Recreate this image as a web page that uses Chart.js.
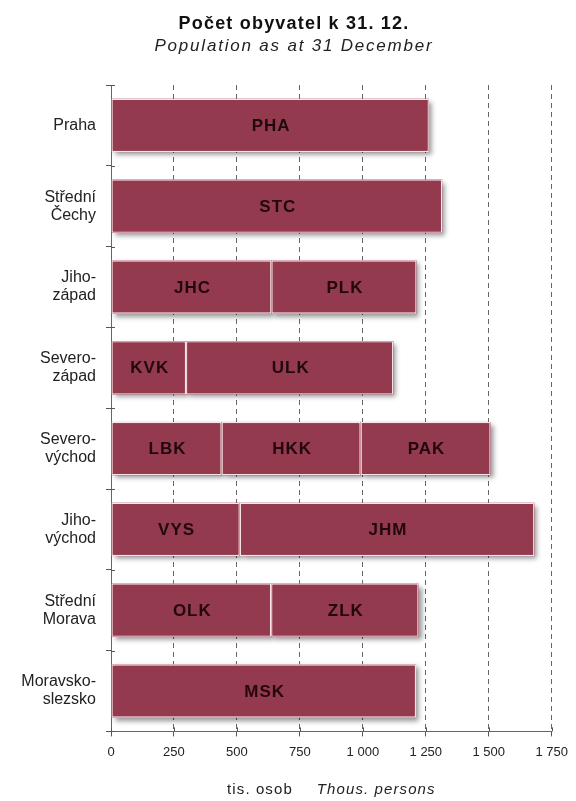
<!DOCTYPE html>
<html><head><meta charset="utf-8">
<script src="https://cdn.jsdelivr.net/npm/chart.js@4/dist/chart.umd.min.js"></script>
<style>html,body{margin:0;padding:0;background:#fff}#wrap{width:576px;height:801px;position:relative}</style>
</head>
<body><div id="wrap"><canvas id="c" width="576" height="801"></canvas></div>
<script>
const regions = [["Praha"],["Střední","Čechy"],["Jiho-","západ"],["Severo-","západ"],["Severo-","východ"],["Jiho-","východ"],["Střední","Morava"],["Moravsko-","slezsko"]];
const part1Codes = ["PHA","STC","JHC","KVK","LBK","VYS","OLK","MSK"];
const part1Values = [1262,1315,637,298,439,511,636,1211];
const part2Codes = [null,null,"PLK","ULK","HKK","JHM","ZLK",null];
const part2Values = [null,null,576,823,552,1170,585,null];
const part3Codes = [null,null,null,null,"PAK",null,null,null];
const part3Values = [null,null,null,null,516,null,null,null];
const xTicks = [0,250,500,750,1000,1250,1500,1750];
const titleText = "Počet obyvatel k 31. 12.";
const subtitleText = "Population as at 31 December";
const axisTitleCz = "tis. osob";
const axisTitleEn = "Thous. persons";

const FONT = '"Liberation Sans", Arial, sans-serif';
const barColor = '#933a4f';
const codesByDataset = [part1Codes, part2Codes, part3Codes];

function fmt(v){
  if (v >= 1000) return Math.floor(v/1000) + ' ' + String(v % 1000).padStart(3,'0');
  return String(v);
}

const mkDs = (vals) => ({
  data: vals,
  backgroundColor: barColor,
  borderColor: 'rgba(255,236,240,0.95)',
  borderWidth: 1.3,
  borderSkipped: false,
  barPercentage: 0.66,
  categoryPercentage: 1.0
});

function spaced(ctx, v){ try { ctx.letterSpacing = v; } catch(e) {} }

const decor = {
  id: 'decor',
  beforeDatasetsDraw(chart){
    const ctx = chart.ctx;
    ctx.save();
    ctx.shadowColor = 'rgba(0,0,0,0.42)';
    ctx.shadowBlur = 5;
    ctx.shadowOffsetX = 3;
    ctx.shadowOffsetY = 3;
    ctx.fillStyle = barColor;
    chart.data.datasets.forEach((ds, di) => {
      const meta = chart.getDatasetMeta(di);
      meta.data.forEach((el, i) => {
        if (ds.data[i] == null) return;
        const x0 = Math.min(el.x, el.base), x1 = Math.max(el.x, el.base);
        const h = el.height;
        ctx.fillRect(x0, el.y - h / 2, x1 - x0, h);
      });
    });
    ctx.restore();
  },
  afterDatasetsDraw(chart){
    const ctx = chart.ctx;
    ctx.save();
    ctx.font = 'bold 17px ' + FONT;
    ctx.fillStyle = '#22070d';
    ctx.textAlign = 'center';
    ctx.textBaseline = 'middle';
    spaced(ctx, '1px');
    chart.data.datasets.forEach((ds, di) => {
      const meta = chart.getDatasetMeta(di);
      meta.data.forEach((el, i) => {
        const code = codesByDataset[di][i];
        if (!code || ds.data[i] == null) return;
        const cx = (el.x + el.base) / 2;
        ctx.fillText(code, cx + 1, el.y + 1);
      });
    });
    ctx.restore();
  },
  afterDraw(chart){
    const ctx = chart.ctx;
    const ca = chart.chartArea;
    const xs = chart.scales.x, ys = chart.scales.y;
    ctx.save();
    ctx.strokeStyle = '#555';
    ctx.lineWidth = 1;
    ctx.beginPath();
    xTicks.forEach(v => {
      const px = Math.round(xs.getPixelForValue(v)) + 0.5;
      ctx.moveTo(px, ca.bottom); ctx.lineTo(px, ca.bottom - 4);
    });
    for (let i = 0; i <= regions.length; i++) {
      const py = Math.round(ys.getPixelForValue(i - 0.5)) + 0.5;
      ctx.moveTo(ca.left, py); ctx.lineTo(ca.left + 4, py);
    }
    ctx.stroke();
    ctx.textAlign = 'center';
    ctx.textBaseline = 'middle';
    ctx.fillStyle = '#111';
    spaced(ctx, '1.2px');
    ctx.font = 'bold 18px ' + FONT;
    ctx.fillText(titleText, 294, 24);
    ctx.fillStyle = '#222';
    spaced(ctx, '1.8px');
    ctx.font = 'italic 17px ' + FONT;
    ctx.fillText(subtitleText, 294, 46);
    const cx = (ca.left + ca.right) / 2;
    spaced(ctx, '1.1px');
    ctx.font = '15px ' + FONT;
    const w1 = ctx.measureText(axisTitleCz).width;
    ctx.font = 'italic 15px ' + FONT;
    const w2 = ctx.measureText(axisTitleEn).width;
    const gap = 24;
    const start = cx - (w1 + gap + w2) / 2;
    ctx.textAlign = 'left';
    ctx.fillStyle = '#222';
    ctx.font = '15px ' + FONT;
    ctx.fillText(axisTitleCz, start, 790);
    ctx.font = 'italic 15px ' + FONT;
    ctx.fillText(axisTitleEn, start + w1 + gap, 790);
    ctx.restore();
  }
};

new Chart(document.getElementById('c'), {
  type: 'bar',
  data: {
    labels: regions,
    datasets: [mkDs(part1Values), mkDs(part2Values), mkDs(part3Values)]
  },
  options: {
    indexAxis: 'y',
    responsive: false,
    maintainAspectRatio: false,
    animation: false,
    devicePixelRatio: 1,
    layout: { padding: { top: 85, left: 6, right: 23, bottom: 33 } },
    plugins: { legend: { display: false }, tooltip: { enabled: false }, title: { display: false } },
    scales: {
      x: {
        stacked: true,
        min: 0, max: 1750,
        afterBuildTicks(s){ s.ticks = xTicks.map(v => ({ value: v })); },
        ticks: {
          callback: (v) => fmt(v),
          font: { family: FONT, size: 13 },
          color: '#222',
          padding: 8,
          maxRotation: 0
        },
        grid: {
          color: '#666', lineWidth: 1, drawTicks: true, tickLength: 5,
          tickColor: '#555', tickBorderDash: []
        },
        border: { display: true, color: '#666', width: 1, dash: [5, 4] }
      },
      y: {
        stacked: true,
        afterFit(s){ s.width = 105; },
        ticks: {
          font: { family: FONT, size: 16, lineHeight: 1.12 },
          color: '#222',
          padding: 10
        },
        grid: {
          offset: true, drawOnChartArea: false, drawTicks: true, tickLength: 5,
          color: '#555', tickColor: '#555'
        },
        border: { display: true, color: '#666', width: 1 }
      }
    }
  },
  plugins: [decor]
});
</script>
</body></html>
